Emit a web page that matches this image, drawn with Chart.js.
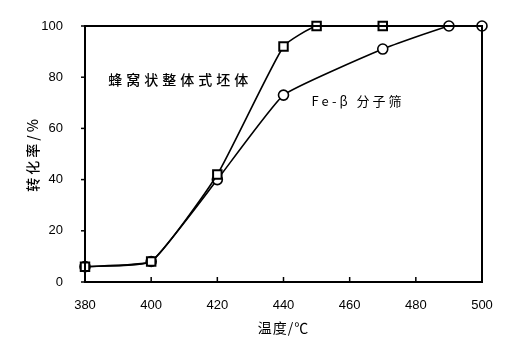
<!DOCTYPE html>
<html>
<head>
<meta charset="utf-8">
<script src="https://cdn.jsdelivr.net/npm/chart.js@4/dist/chart.umd.min.js"></script>
<style>
  html, body { margin: 0; padding: 0; background: #fff; }
  #wrap { width: 519px; height: 353px; }
</style>
</head>
<body>
<div id="wrap"><canvas id="grafico"></canvas></div>
<script>
// datos
const temperaturaCuadrado = [380, 400, 420, 440, 450, 470];
const conversionCuadrado = [6, 8, 42, 92, 100, 100];
const temperaturaCirculo = [380, 400, 420, 440, 470, 490, 500];
const conversionCirculo = [6, 8, 40, 73, 91, 100, 100];
const ticksX = [380, 400, 420, 440, 460, 480, 500];
const ticksY = [0, 20, 40, 60, 80, 100];
const nombreCuadrado = '蜂窝状整体式坯体';
const nombreCirculo = 'Fe-β 分子筛';
const tituloX = '温度/℃';
const tituloY = '转化率/%';

const fuente = '"Liberation Sans", Arial, sans-serif';
const fuenteCJK = '"Noto Sans CJK SC", "Liberation Sans", sans-serif';

function puntos(xs, ys) {
    return xs.map((x, i) => ({ x: x, y: ys[i] }));
}

// marco, ticks interiores del eje x y textos
const extras = {
    id: 'extras',
    afterDraw(chart) {
        const ctx = chart.ctx;
        const a = chart.chartArea;
        const sx = chart.scales.x;
        const sy = chart.scales.y;
        ctx.save();
        ctx.strokeStyle = '#000';
        ctx.lineWidth = 2;
        ctx.strokeRect(a.left, a.top, a.right - a.left, a.bottom - a.top);

        ctx.lineWidth = 1.5;
        ticksX.forEach(v => {
            const px = sx.getPixelForValue(v);
            ctx.beginPath();
            ctx.moveTo(px, a.bottom);
            ctx.lineTo(px, a.bottom - 5);
            ctx.stroke();
        });
        ticksY.forEach(v => {
            const py = sy.getPixelForValue(v);
            ctx.beginPath();
            ctx.moveTo(a.left, py);
            ctx.lineTo(a.left - 4, py);
            ctx.stroke();
        });

        ctx.fillStyle = '#000';
        ctx.textBaseline = 'middle';
        ctx.textAlign = 'left';
        ctx.letterSpacing = '4px';
        ctx.font = '500 14px ' + fuenteCJK;
        ctx.fillText(nombreCuadrado, sx.getPixelForValue(387), sy.getPixelForValue(79));
        ctx.letterSpacing = '3px';
        ctx.font = '13px ' + fuenteCJK;
        ctx.fillText(nombreCirculo, sx.getPixelForValue(448.5), sy.getPixelForValue(70.5));

        ctx.letterSpacing = '1px';
        ctx.textAlign = 'center';
        ctx.font = '14px ' + fuenteCJK;
        ctx.fillText(tituloX, (a.left + a.right) / 2, 328);

        ctx.translate(33, (a.top + a.bottom) / 2);
        ctx.rotate(-Math.PI / 2);
        ctx.letterSpacing = '3px';
        ctx.font = '500 14px ' + fuenteCJK;
        ctx.fillText(tituloY, 0, 0);
        ctx.restore();
    }
};

const ctx = document.getElementById('grafico').getContext('2d');
new Chart(ctx, {
    type: 'line',
    data: {
        datasets: [{
            label: nombreCuadrado,
            data: puntos(temperaturaCuadrado, conversionCuadrado),
            borderColor: '#000',
            borderWidth: 1.6,
            backgroundColor: '#fff',
            pointStyle: 'rect',
            pointRadius: 6,
            pointBorderWidth: 2,
            pointBorderColor: '#000',
            pointBackgroundColor: '#fff',
            tension: 0.15,
            clip: false
        }, {
            label: nombreCirculo,
            data: puntos(temperaturaCirculo, conversionCirculo),
            borderColor: '#000',
            borderWidth: 1.6,
            backgroundColor: '#fff',
            pointStyle: 'circle',
            pointRadius: 5,
            pointBorderWidth: 1.6,
            pointBorderColor: '#000',
            pointBackgroundColor: '#fff',
            tension: 0.12,
            clip: false
        }]
    },
    options: {
        responsive: true,
        maintainAspectRatio: false,
        animation: false,
        layout: { padding: { left: 0, right: 37, top: 26, bottom: 0 } },
        plugins: {
            legend: { display: false },
            tooltip: { enabled: false }
        },
        scales: {
            x: {
                type: 'linear',
                min: 380,
                max: 500,
                afterBuildTicks: s => { s.ticks = ticksX.map(v => ({ value: v })); },
                afterFit: s => { s.height = 71; },
                grid: { display: false },
                border: { display: false },
                ticks: {
                    color: '#000',
                    padding: 8,
                    font: { family: fuente, size: 13 },
                    callback: v => String(v)
                }
            },
            y: {
                type: 'linear',
                min: 0,
                max: 100,
                afterBuildTicks: s => { s.ticks = ticksY.map(v => ({ value: v })); },
                afterFit: s => { s.width = 85; },
                grid: { display: false },
                border: { display: false },
                ticks: {
                    color: '#000',
                    padding: 14,
                    font: { family: fuente, size: 13 },
                    callback: v => String(v)
                }
            }
        }
    },
    plugins: [extras]
});
</script>
</body>
</html>
